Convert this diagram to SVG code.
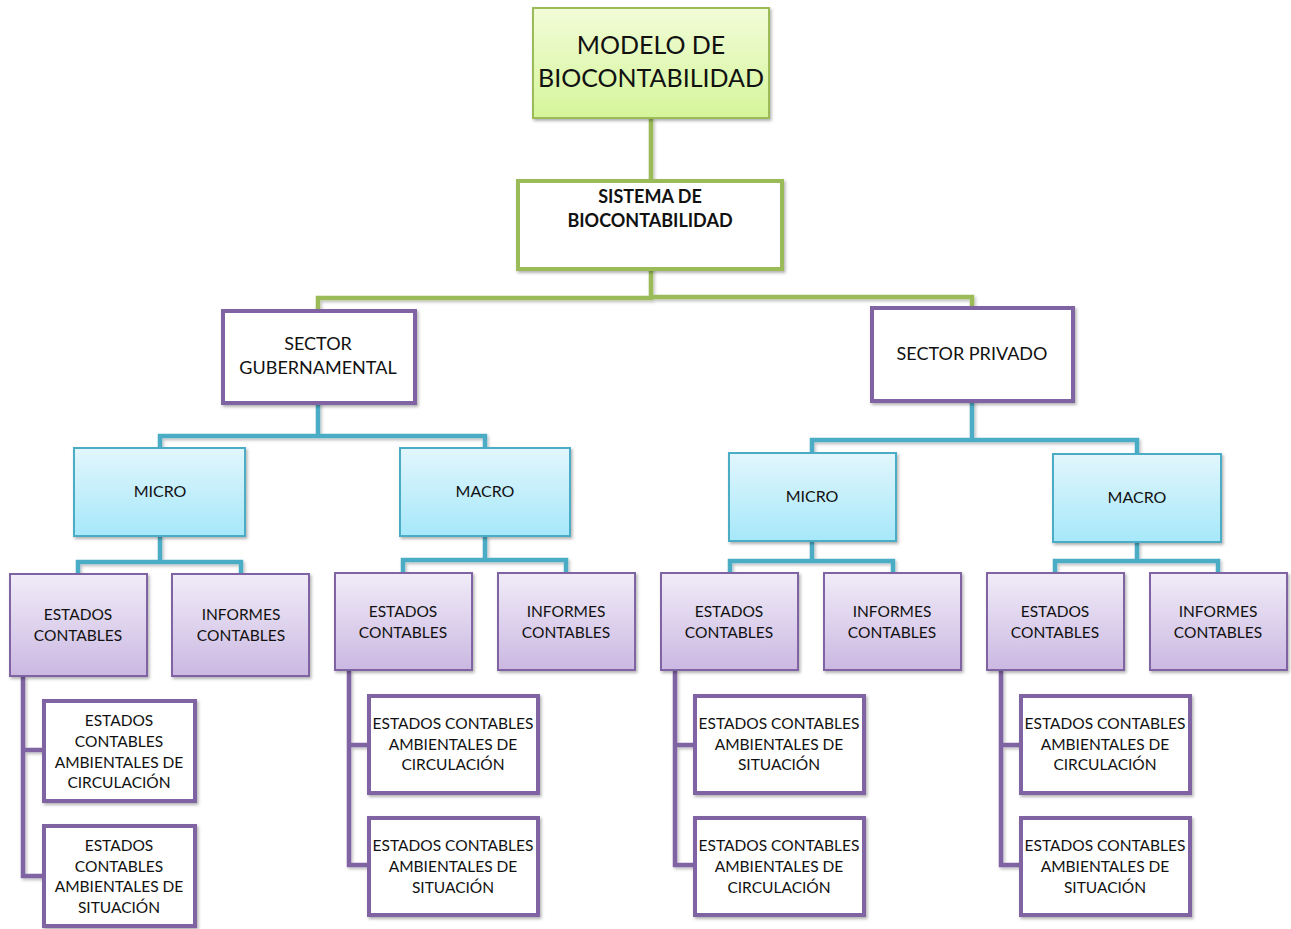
<svg xmlns="http://www.w3.org/2000/svg" width="1291" height="929" viewBox="0 0 1291 929">
<defs>
<linearGradient id="gGreen" x1="0" y1="0" x2="0" y2="1"><stop offset="0" stop-color="#f2fcd8"/><stop offset="1" stop-color="#d5f59a"/></linearGradient>
<linearGradient id="gCyan" x1="0" y1="0" x2="0" y2="1"><stop offset="0" stop-color="#e2f6fc"/><stop offset="1" stop-color="#a6e8fa"/></linearGradient>
<linearGradient id="gLav" x1="0" y1="0" x2="0" y2="1"><stop offset="0" stop-color="#f1ecf8"/><stop offset="1" stop-color="#cbb8e2"/></linearGradient>
<filter id="sh" x="-10%" y="-10%" width="130%" height="130%"><feDropShadow dx="1.5" dy="2" stdDeviation="1.8" flood-color="#000" flood-opacity="0.3"/></filter>
<filter id="shc" filterUnits="userSpaceOnUse" x="0" y="0" width="1291" height="929"><feDropShadow dx="1.5" dy="2" stdDeviation="1.5" flood-color="#000" flood-opacity="0.25"/></filter>
</defs>
<style>
text{font-family:"Lato","Open Sans","Liberation Sans",sans-serif;fill:#111;text-anchor:middle}
.t15{font-size:15.5px}
.t16{font-size:16px}
.t18{font-size:18px}
.c{fill:none;stroke-linejoin:miter;filter:url(#shc)}
.cg{stroke:#9bbb59;stroke-width:4.5}
.ct{stroke:#4bacc6;stroke-width:4.5}
.cp{stroke:#8064a2;stroke-width:4.5}
.green{fill:url(#gGreen);stroke:#9bbb59;stroke-width:2;filter:url(#sh)}
.wg{fill:#fff;stroke:#9bbb59;stroke-width:4;filter:url(#sh)}
.wp{fill:#fff;stroke:#8064a2;stroke-width:4;filter:url(#sh)}
.cy{fill:url(#gCyan);stroke:#4bacc6;stroke-width:2;filter:url(#sh)}
.lv{fill:url(#gLav);stroke:#8064a2;stroke-width:2;filter:url(#sh)}
</style>
<rect width="1291" height="929" fill="#fff"/>
<g id="connectors">
<path class="c cg" d="M651 118V181"/>
<path class="c cg" d="M651 269V298H318V311M651 297H972V308"/>
<path class="c ct" d="M318 403V436H160V448M318 436H485V448"/>
<path class="c ct" d="M972 401V440H812V453M972 440H1137V454"/>
<path class="c ct" d="M160 536V562H78V574M160 562H241V574"/>
<path class="c ct" d="M485 536V560H403V573M485 560H566V573"/>
<path class="c ct" d="M812 541V561H730V573M812 561H893V573"/>
<path class="c ct" d="M1137 542V561H1055V573M1137 561H1218V573"/>
<path class="c cp" d="M23 676V876H44M23 750H44"/>
<path class="c cp" d="M349 670V865H369M349 745H369"/>
<path class="c cp" d="M675 670V865H695M675 745H695"/>
<path class="c cp" d="M1001 670V865H1021M1001 745H1021"/>
</g>
<g id="modelo"><rect class="green" x="533" y="8" width="236" height="110"/><text x="651" y="54" style="font-size:25px">MODELO DE</text><text x="651" y="87" style="font-size:25px">BIOCONTABILIDAD</text></g>
<g id="sistema"><rect class="wg" x="518" y="181" width="264" height="88"/><text x="650" y="203" class="t18" font-weight="bold">SISTEMA DE</text><text x="650" y="227" class="t18" font-weight="bold">BIOCONTABILIDAD</text></g>
<g id="sector-gub"><rect class="wp" x="223" y="311" width="192" height="92"/><text x="318" y="350" class="t18">SECTOR</text><text x="318" y="374" class="t18">GUBERNAMENTAL</text></g>
<g id="sector-priv"><rect class="wp" x="872" y="308" width="201" height="93"/><text x="972" y="360" class="t18">SECTOR PRIVADO</text></g>
<g id="micro-g"><rect class="cy" x="74" y="448" width="171" height="88"/><text x="160" y="497" class="t16">MICRO</text></g>
<g id="macro-g"><rect class="cy" x="400" y="448" width="170" height="88"/><text x="485" y="497" class="t16">MACRO</text></g>
<g id="micro-p"><rect class="cy" x="729" y="453" width="167" height="88"/><text x="812" y="502" class="t16">MICRO</text></g>
<g id="macro-p"><rect class="cy" x="1053" y="454" width="168" height="88"/><text x="1137" y="503" class="t16">MACRO</text></g>
<g id="estados-mg"><rect class="lv" x="10" y="574" width="137" height="102"/><text x="78" y="620" class="t15">ESTADOS</text><text x="78" y="641" class="t15">CONTABLES</text></g>
<g id="informes-mg"><rect class="lv" x="172" y="574" width="137" height="102"/><text x="241" y="620" class="t15">INFORMES</text><text x="241" y="641" class="t15">CONTABLES</text></g>
<g id="estados-ag"><rect class="lv" x="335" y="573" width="137" height="97"/><text x="403" y="617" class="t15">ESTADOS</text><text x="403" y="638" class="t15">CONTABLES</text></g>
<g id="informes-ag"><rect class="lv" x="498" y="573" width="137" height="97"/><text x="566" y="617" class="t15">INFORMES</text><text x="566" y="638" class="t15">CONTABLES</text></g>
<g id="estados-mp"><rect class="lv" x="661" y="573" width="137" height="97"/><text x="729" y="617" class="t15">ESTADOS</text><text x="729" y="638" class="t15">CONTABLES</text></g>
<g id="informes-mp"><rect class="lv" x="824" y="573" width="137" height="97"/><text x="892" y="617" class="t15">INFORMES</text><text x="892" y="638" class="t15">CONTABLES</text></g>
<g id="estados-ap"><rect class="lv" x="987" y="573" width="137" height="97"/><text x="1055" y="617" class="t15">ESTADOS</text><text x="1055" y="638" class="t15">CONTABLES</text></g>
<g id="informes-ap"><rect class="lv" x="1150" y="573" width="137" height="97"/><text x="1218" y="617" class="t15">INFORMES</text><text x="1218" y="638" class="t15">CONTABLES</text></g>
<g id="eca-circ-mg"><rect class="wp" x="44" y="701" width="151" height="100"/><text x="119" y="726" class="t15">ESTADOS</text><text x="119" y="747" class="t15">CONTABLES</text><text x="119" y="768" class="t15">AMBIENTALES DE</text><text x="119" y="788" class="t15">CIRCULACIÓN</text></g>
<g id="eca-sit-mg"><rect class="wp" x="44" y="826" width="151" height="100"/><text x="119" y="851" class="t15">ESTADOS</text><text x="119" y="872" class="t15">CONTABLES</text><text x="119" y="892" class="t15">AMBIENTALES DE</text><text x="119" y="913" class="t15">SITUACIÓN</text></g>
<g id="eca-circ-ag"><rect class="wp" x="369" y="696" width="169" height="97"/><text x="453" y="729" class="t15">ESTADOS CONTABLES</text><text x="453" y="750" class="t15">AMBIENTALES DE</text><text x="453" y="770" class="t15">CIRCULACIÓN</text></g>
<g id="eca-sit-ag"><rect class="wp" x="369" y="818" width="169" height="97"/><text x="453" y="851" class="t15">ESTADOS CONTABLES</text><text x="453" y="872" class="t15">AMBIENTALES DE</text><text x="453" y="893" class="t15">SITUACIÓN</text></g>
<g id="eca-sit-mp"><rect class="wp" x="695" y="696" width="169" height="97"/><text x="779" y="729" class="t15">ESTADOS CONTABLES</text><text x="779" y="750" class="t15">AMBIENTALES DE</text><text x="779" y="770" class="t15">SITUACIÓN</text></g>
<g id="eca-circ-mp"><rect class="wp" x="695" y="818" width="169" height="97"/><text x="779" y="851" class="t15">ESTADOS CONTABLES</text><text x="779" y="872" class="t15">AMBIENTALES DE</text><text x="779" y="893" class="t15">CIRCULACIÓN</text></g>
<g id="eca-circ-ap"><rect class="wp" x="1021" y="696" width="169" height="97"/><text x="1105" y="729" class="t15">ESTADOS CONTABLES</text><text x="1105" y="750" class="t15">AMBIENTALES DE</text><text x="1105" y="770" class="t15">CIRCULACIÓN</text></g>
<g id="eca-sit-ap"><rect class="wp" x="1021" y="818" width="169" height="97"/><text x="1105" y="851" class="t15">ESTADOS CONTABLES</text><text x="1105" y="872" class="t15">AMBIENTALES DE</text><text x="1105" y="893" class="t15">SITUACIÓN</text></g>
</svg>
